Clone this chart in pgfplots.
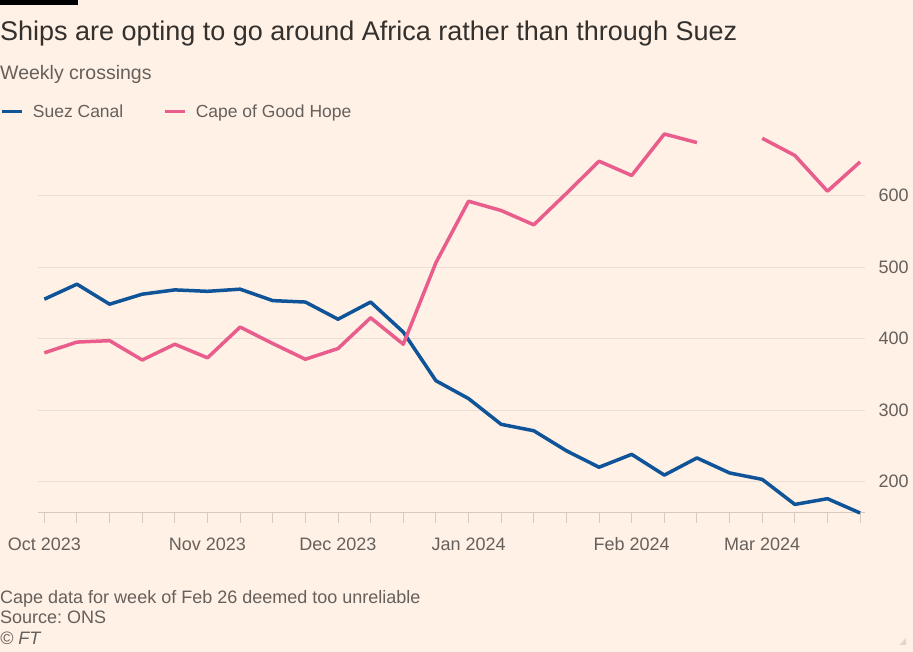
\documentclass[border=0pt]{standalone}
\usepackage{pgfplots}
\pgfplotsset{compat=1.18}
\usepackage{fontspec}
\setmainfont{Liberation Sans}
\frenchspacing
\definecolor{ftbg}{HTML}{FFF1E5}
\definecolor{fttitle}{HTML}{33302E}
\definecolor{ftgrey}{HTML}{66605C}
\definecolor{ftgrid}{HTML}{EBDFD5}
\definecolor{ftaxis}{HTML}{D6C9BE}
\definecolor{suez}{HTML}{0F5499}
\definecolor{cape}{HTML}{E95D8C}
\begin{document}
\begin{tikzpicture}
\path[use as bounding box] (0pt,0pt) rectangle (913pt,652pt);
\fill[ftbg] (0pt,0pt) rectangle (913pt,652pt);
\fill[black] (0pt,652pt) rectangle (78pt,647pt);
\node[anchor=base west, inner sep=0pt, text=fttitle, font=\fontsize{27}{32}\selectfont] at (0pt,611pt) {Ships are opting to go around Africa rather than through Suez};
\node[anchor=base west, inner sep=0pt, text=ftgrey, font=\fontsize{19.5}{24}\selectfont] at (0pt,572pt) {Weekly crossings};
\node[anchor=base west, inner sep=0pt, text=ftgrey, font=\fontsize{18}{22}\selectfont] at (0pt,48pt) {Cape data for week of Feb 26 deemed too unreliable};
\node[anchor=base west, inner sep=0pt, text=ftgrey, font=\fontsize{18}{22}\selectfont] at (0pt,28pt) {Source: ONS};
\node[anchor=base west, inner sep=0pt, text=ftgrey, font=\fontsize{18}{22}\selectfont\itshape] at (0pt,7pt) {© FT};
\fill[ftaxis!70!ftbg] (906pt,7pt) -- (906pt,14pt) -- (899pt,7pt) -- cycle;
\begin{axis}[
  at={(37.8pt,139pt)}, anchor=south west,
  scale only axis, width=827.2pt, height=389pt,
  xmin=-0.2, xmax=25.15, ymin=156, ymax=700,
  axis x line*=bottom, axis y line*=right,
  y axis line style={draw=none},
  x axis line style={ftaxis, line width=1pt},
  xtick={0,...,25},
  xticklabels={Oct 2023,,,,,Nov 2023,,,,Dec 2023,,,,Jan 2024,,,,,Feb 2024,,,,Mar 2024,,,},
  xticklabel style={yshift=-11pt},
  ytick={200,300,400,500,600},
  yticklabel pos=right,
  ymajorgrids, grid style={ftgrid, line width=1pt},
  tick align=outside,
  major tick length=10pt,
  xtick style={ftaxis, line width=1pt},
  ytick style={draw=none},
  ticklabel style={text=ftgrey, font=\fontsize{18}{22}\selectfont},
  /pgf/number format/assume math mode=true,
  unbounded coords=jump,
  legend columns=2,
  legend cell align=left,
  legend style={draw=none, fill=none, inner sep=0pt, at={(-0.0457,1.0316)}, anchor=west,
    nodes={inner sep=0pt, text=ftgrey, font=\fontsize{17.5}{21}\selectfont},
    /tikz/every odd column/.append style={column sep=9pt},
    /tikz/every even column/.append style={column sep=39.7pt}},
  legend image code/.code={\draw[#1, line width=3pt] (0pt,0pt) -- (20.7pt,0pt);},
  clip=false,
]
\addplot[suez, line width=3.5pt, line join=round] coordinates {
(0,455)(1,476)(2,448)(3,462)(4,468)(5,466)(6,469)(7,453)(8,451)(9,427)(10,451)(11,409)(12,341)
(13,316)(14,280)(15,271)(16,243)(17,220)(18,238)(19,209)(20,233)(21,212)(22,203)(23,168)(24,176)(25,156)};
\addlegendentry{Suez Canal}
\addplot[cape, line width=3.5pt, line join=round] coordinates {
(0,380)(1,395)(2,397)(3,370)(4,392)(5,373)(6,416)(7,393)(8,371)(9,386)(10,429)(11,392)(12,506)
(13,592)(14,579)(15,559)(16,603)(17,648)(18,628)(19,686)(20,674)(21,nan)(22,680)(23,656)(24,606)(25,647)};
\addlegendentry{Cape of Good Hope}
\end{axis}
\end{tikzpicture}
\end{document}
